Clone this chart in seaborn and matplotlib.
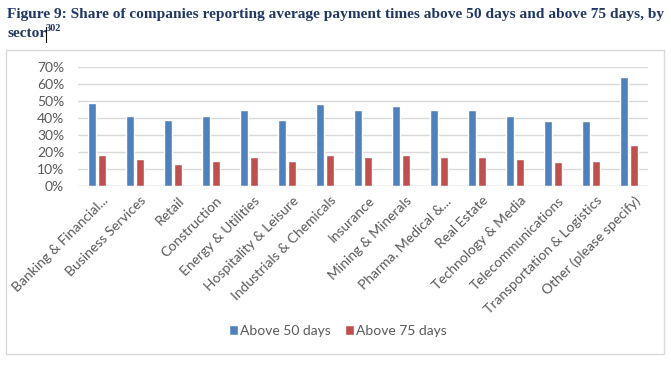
import matplotlib
import matplotlib.pyplot as plt
import matplotlib.transforms as mtransforms
import pandas as pd
import seaborn as sns
from matplotlib.patches import Rectangle
from matplotlib.ticker import PercentFormatter

sectors = [
    "Banking & Financial...",
    "Business Services",
    "Retail",
    "Construction",
    "Energy & Utilities",
    "Hospitality & Leisure",
    "Industrials & Chemicals",
    "Insurance",
    "Mining & Minerals",
    "Pharma, Medical &...",
    "Real Estate",
    "Technology & Media",
    "Telecommunications",
    "Transportation & Logistics",
    "Other (please specify)",
]
above_50 = [49, 41, 39, 41, 45, 39, 48, 45, 47, 45, 45, 41, 38, 38, 64]
above_75 = [18, 16, 13, 15, 17, 15, 18, 17, 18, 17, 17, 16, 14, 15, 24]
series = ["Above 50 days", "Above 75 days"]
colors = ["#4F81BD", "#C0504D"]

sns.set_theme(style="white")
plt.rcParams["font.family"] = ["Lato", "DejaVu Sans"]

df = pd.DataFrame(
    {
        "sector": sectors * 2,
        "share": above_50 + above_75,
        "series": [series[0]] * len(sectors) + [series[1]] * len(sectors),
    }
)

W, H = 671, 365
fig = plt.figure(figsize=(W / 100, H / 100), dpi=100)
ax = fig.add_axes([78 / W, 1 - 186 / H, (648 - 78) / W, (186 - 67) / H])

sns.barplot(
    data=df, x="sector", y="share", hue="series", palette=colors,
    width=0.5, gap=0.15, ax=ax, legend=True, saturation=1,
)

ax.set_ylim(0, 70)
ax.set_yticks(range(0, 71, 10))
ax.yaxis.set_major_formatter(PercentFormatter(decimals=0))
ax.grid(axis="y", color="#D9D9D9", linewidth=1)
ax.set_axisbelow(True)
sns.despine(ax=ax, left=True, bottom=True, top=True, right=True)
ax.axhline(0, color="#D9D9D9", linewidth=1, zorder=0)
ax.set_xlim(-0.5, len(sectors) - 0.5)
ax.set(xlabel="", ylabel="")
ax.tick_params(axis="both", length=0, colors="#595959", labelsize=10)
ax.tick_params(axis="y", pad=10)
ax.tick_params(axis="x", pad=6)

# nudge the rotated sector labels a little to the right, like the original
shift = mtransforms.ScaledTranslation(5 / 100, 0, fig.dpi_scale_trans)
for lab in ax.get_xticklabels():
    lab.set_rotation(45)
    lab.set_ha("right")
    lab.set_rotation_mode("anchor")
    lab.set_transform(lab.get_transform() + shift)

leg = ax.legend(
    loc="center", bbox_to_anchor=(338 / W, 1 - 331 / H),
    bbox_transform=fig.transFigure, ncol=2, frameon=False,
    fontsize=10, handlelength=0.65, handleheight=0.65, handletextpad=0.15,
    columnspacing=1.0,
)
for t in leg.get_texts():
    t.set_color("#595959")

# chart border
fig.patches.append(
    Rectangle((6 / W, 1 - 354 / H), (664 - 6) / W, (354 - 50) / H,
              transform=fig.transFigure, fill=False, edgecolor="#D9D9D9",
              linewidth=1)
)

title_kw = dict(family=["Liberation Serif", "DejaVu Serif"], weight="bold",
                color="#1F3864")
fig.text(7 / W, 1 - 18 / H,
         "Figure 9: Share of companies reporting average payment times above 50 days and above 75 days, by",
         fontsize=11.1, **title_kw)
fig.text(7 / W, 1 - 37 / H, "sector", fontsize=11.1, **title_kw)
fig.text(46 / W, 1 - 31 / H, "302", fontsize=7.5, **title_kw)
fig.add_artist(plt.Line2D([45.5 / W, 45.5 / W], [1 - 27 / H, 1 - 42 / H],
                          color="black", linewidth=0.8))

fig.savefig("out.png", dpi=100)
